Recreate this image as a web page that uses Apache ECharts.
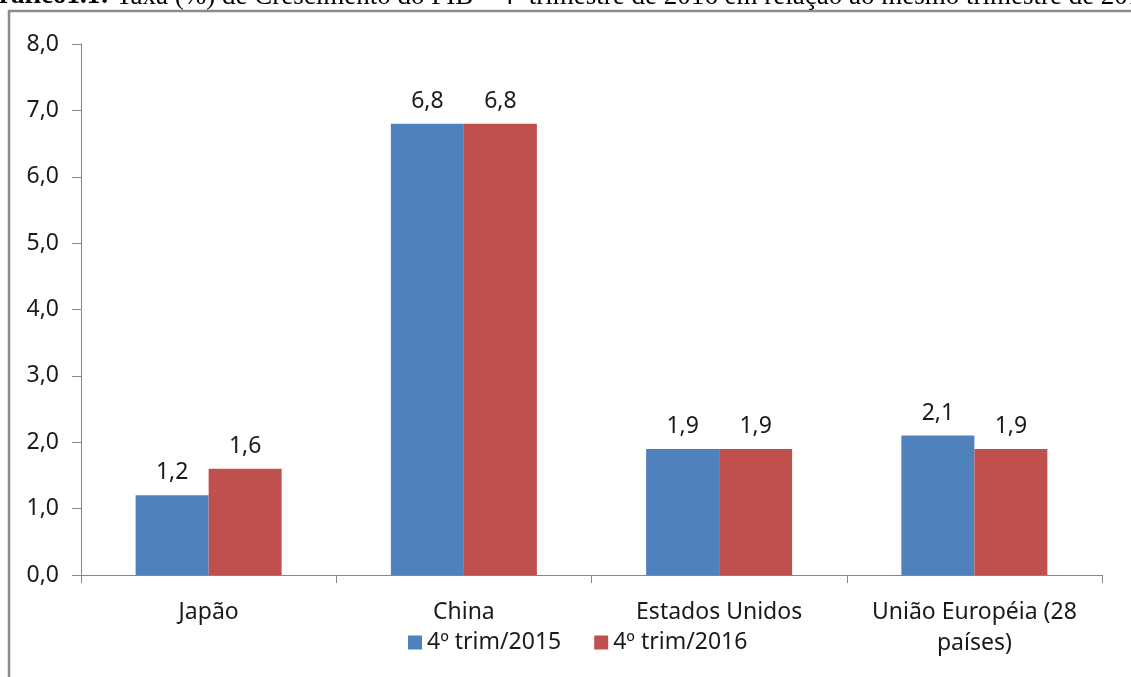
<!DOCTYPE html>
<html>
<head>
<meta charset="utf-8">
<script src="https://cdn.jsdelivr.net/npm/echarts@6/dist/echarts.min.js"></script>
<style>
  html, body { margin: 0; padding: 0; background: #fff; }
  #chart { width: 1131px; height: 677px; }
</style>
</head>
<body>
<div id="chart"></div>
<script>
const categories = ['Japão', 'China', 'Estados Unidos', 'União Européia (28 países)']
const seriesNames = ['4º trim/2015', '4º trim/2016']
const trim2015 = [1.2, 6.8, 1.9, 2.1]
const trim2016 = [1.6, 6.8, 1.9, 1.9]
const yTicks = [0, 1, 2, 3, 4, 5, 6, 7, 8]

const font = 'Noto Sans'
const fs = 23
const textColor = '#1a1a1a'
const axisColor = '#868686'

function comma(v) {
  return Number(v).toFixed(1).replace('.', ',')
}

const chart = echarts.init(document.getElementById('chart'))

let option = {
  animation: false,
  backgroundColor: '#fff',
  title: {
    text: '{b|Gráfico1.1:} Taxa (%) de Crescimento do PIB – 4º trimestre de 2016 em relação ao mesmo trimestre de 2015',
    left: -22,
    top: -17,
    padding: 0,
    textStyle: {
      fontFamily: 'Liberation Serif',
      fontSize: 27,
      fontWeight: 'normal',
      color: '#000',
      rich: {
        b: { fontFamily: 'Liberation Serif', fontSize: 27, fontWeight: 'bold', color: '#000' }
      }
    }
  },
  graphic: [{
    type: 'rect',
    shape: { x: 9, y: 11, width: 1300, height: 900 },
    style: { fill: 'none', stroke: '#8c8c8c', lineWidth: 2.5 },
    silent: true
  }],
  grid: {
    left: 81,
    right: 29,
    top: 44,
    bottom: 102,
    containLabel: false
  },
  legend: {
    bottom: 18,
    left: 403,
    itemWidth: 14,
    itemHeight: 14,
    itemGap: 33,
    icon: 'rect',
    textStyle: { fontFamily: font, fontSize: fs, color: textColor },
    data: seriesNames
  },
  xAxis: {
    type: 'category',
    data: categories,
    axisLine: { lineStyle: { color: axisColor, width: 1 } },
    axisTick: { show: true, length: 8, lineStyle: { color: axisColor } },
    axisLabel: {
      interval: 0,
      margin: 22,
      fontFamily: font,
      fontSize: fs,
      color: textColor,
      lineHeight: 31,
      formatter: v => v.replace('(28 ', '(28\n')
    }
  },
  yAxis: {
    type: 'value',
    min: yTicks[0],
    max: yTicks[yTicks.length - 1],
    interval: 1,
    splitLine: { show: false },
    axisLine: { show: true, lineStyle: { color: axisColor, width: 1 } },
    axisTick: { show: true, length: 9, lineStyle: { color: axisColor } },
    axisLabel: {
      margin: 22,
      fontFamily: font,
      fontSize: fs,
      color: textColor,
      formatter: v => comma(v)
    }
  },
  series: [
    {
      name: seriesNames[0],
      type: 'bar',
      data: trim2015,
      barWidth: '28.6%',
      barGap: '0%',
      itemStyle: { color: '#4F81BD' },
      label: {
        show: true,
        position: 'top',
        distance: 11,
        fontFamily: font,
        fontSize: fs,
        color: textColor,
        formatter: p => comma(p.value)
      }
    },
    {
      name: seriesNames[1],
      type: 'bar',
      data: trim2016,
      barWidth: '28.6%',
      barGap: '0%',
      itemStyle: { color: '#C0504D' },
      label: {
        show: true,
        position: 'top',
        distance: 11,
        fontFamily: font,
        fontSize: fs,
        color: textColor,
        formatter: p => comma(p.value)
      }
    }
  ]
}

option && chart.setOption(option)
</script>
</body>
</html>
